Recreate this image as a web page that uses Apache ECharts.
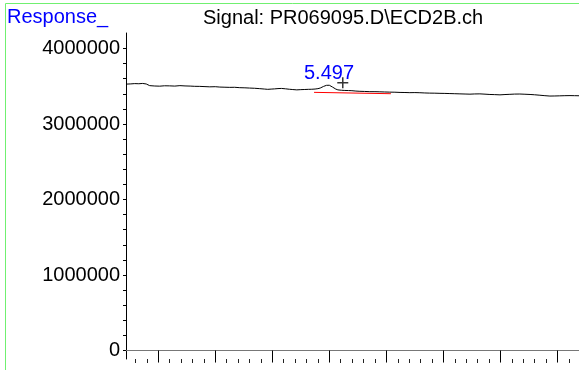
<!DOCTYPE html>
<html><head><meta charset="utf-8">
<script src="https://cdn.jsdelivr.net/npm/echarts@6/dist/echarts.min.js"></script>
<style>html,body{margin:0;padding:0;background:#fff}#c{width:579px;height:370px}</style>
</head><body><div id="c"></div>
<script>
var times = [3.718,3.76,3.794,3.83,3.864,3.895,3.925,3.97,4.013,4.055,4.10,4.145,4.19,4.235,4.28,4.32,4.364,4.41,4.452,4.50,4.54,4.585,4.627,4.67,4.715,4.76,4.80,4.845,4.89,4.93,4.96,4.99,5.02,5.05,5.08,5.115,5.15,5.18,5.215,5.25,5.285,5.316,5.346,5.375,5.40,5.42,5.435,5.45,5.46,5.475,5.49,5.50,5.513,5.527,5.54,5.557,5.575,5.605,5.636,5.667,5.698,5.733,5.768,5.81,5.855,5.90,5.943,5.985,6.03,6.075,6.12,6.163,6.206,6.25,6.294,6.337,6.38,6.425,6.47,6.513,6.557,6.60,6.645,6.69,6.733,6.775,6.82,6.865,6.908,6.95,6.996,7.04,7.083,7.125,7.17,7.215,7.26,7.30,7.346,7.39,7.434,7.477,7.52,7.565,7.61,7.65,7.689];
var response = [3528000,3531000,3535000,3533000,3537000,3530000,3508000,3503000,3501000,3506000,3505000,3502000,3508000,3504000,3502000,3499000,3498000,3495000,3492000,3494000,3489000,3487000,3485000,3486000,3481000,3479000,3476000,3473000,3468000,3463000,3459000,3462000,3465000,3469000,3471000,3466000,3460000,3456000,3452000,3455000,3457000,3459000,3460000,3463000,3468000,3476000,3488000,3498000,3505000,3512000,3515000,3513000,3505000,3490000,3476000,3462000,3452000,3447000,3444000,3443000,3441000,3436000,3433000,3431000,3428000,3428000,3426000,3424000,3422000,3421000,3418000,3417000,3415000,3416000,3414000,3411000,3409000,3408000,3406000,3405000,3403000,3401000,3399000,3397000,3395000,3398000,3399000,3395000,3391000,3389000,3386000,3390000,3393000,3396000,3397000,3394000,3391000,3387000,3381000,3375000,3370000,3371000,3373000,3375000,3376000,3375000,3374000];
var baselineTimes = [5.366, 6.04];
var baselineValues = [3419000, 3401000];
var peakTime = [5.497];
var peakValue = [3515000];
var peakLabel = ['5.497'];
var crossTime = [5.618];
var crossValue = [3545000];
var yTickLabels = [0,1000000,2000000,3000000,4000000];
var yMinorTicks = [];
for (var i = 0; i <= 20; i++) yMinorTicks.push(i * 200000);
var xMajorTicks = [4.0,4.5,5.0,5.5,6.0,6.5,7.0,7.5];
var xMinorTicks = [3.8,3.9,4.1,4.2,4.3,4.4,4.6,4.7,4.8,4.9,5.1,5.2,5.3,5.4,5.6,5.7,5.8,5.9,6.1,6.2,6.3,6.4,6.6,6.7,6.8,6.9,7.1,7.2,7.3,7.4,7.6];
var titleText = 'Signal: PR069095.D\\ECD2B.ch';
var yAxisName = 'Response_';

var FONT = '"Liberation Sans", Arial, sans-serif';
var chart = echarts.init(document.getElementById('c'), null, {renderer:'canvas'});
var lineData = times.map(function(t,i){return [t, response[i]];});
var baseData = baselineTimes.map(function(t,i){return [t, baselineValues[i]];});
chart.setOption({
  animation: false,
  backgroundColor: '#fff',
  title: {text: titleText, left: 203, top: 8, padding: 0,
    textStyle: {fontFamily: FONT, fontSize: 20, fontWeight: 'normal', color: '#000'}},
  graphic: [
    {type:'rect', shape:{x:5.5, y:3.5, width:700, height:500}, style:{fill:'none', stroke:'#70f070', lineWidth:1}, silent:true, z: 10},
    {type:'text', left: 7, top: 7, style:{text: yAxisName, fontFamily: FONT, fontSize: 20, fill:'#0000ff'}}
  ],
  grid: {left: 126, right: 0, top: 33, bottom: 11},
  xAxis: [
    {type:'value', min: 3.7175, max: 7.689, position:'bottom',
      axisLine:{show:true, lineStyle:{color:'#777', width:1}},
      axisTick:{show:true, customValues: xMajorTicks, length: 12, lineStyle:{color:'#000'}},
      axisLabel:{show:false}, splitLine:{show:false}},
    {type:'value', min: 3.7175, max: 7.689, position:'bottom',
      axisLine:{show:false},
      axisTick:{show:true, customValues: xMinorTicks, length: 4, lineStyle:{color:'#222'}},
      axisLabel:{show:false}, splitLine:{show:false}}
  ],
  yAxis: {type:'value', min: -112000, max: 4205000,
    axisLine:{show:true, lineStyle:{color:'#000', width:1}},
    axisTick:{show:true, customValues: yMinorTicks, length: 3, lineStyle:{color:'#000'}},
    axisLabel:{show:true, customValues: yTickLabels, margin: 6, fontFamily: FONT, fontSize: 20, color:'#000',
      formatter: function(v){return String(v);}},
    splitLine:{show:false}},
  series: [
    {type:'line', data: lineData, symbol:'none', lineStyle:{color:'#000', width:1}, z: 3},
    {type:'line', data: baseData, symbol:'none', lineStyle:{color:'#ff0000', width:1}, z: 2},
    {type:'scatter', data: peakTime.map(function(t,i){return [t, peakValue[i]];}), symbolSize: 0,
      label:{show:true, position:'top', distance: 2, formatter: function(p){return peakLabel[p.dataIndex];},
        fontFamily: FONT, fontSize: 20, color:'#0000ff', textBorderWidth: 0, opacity: 1}},
    {type:'scatter', data: crossTime.map(function(t,i){return [t, crossValue[i]];}), symbol:'path://M0,5 L10,5 M5,0 L5,10',
      symbolSize: 11, itemStyle:{color:'none', borderColor:'#000', borderWidth:1.5}}
  ]
});
</script></body></html>
